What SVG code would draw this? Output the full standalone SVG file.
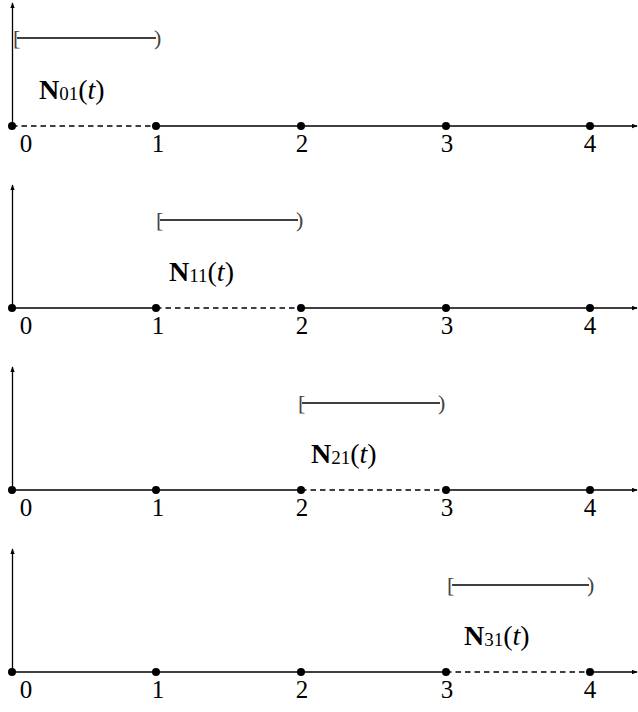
<svg xmlns="http://www.w3.org/2000/svg" width="638" height="712" viewBox="0 0 638 712">
<defs>
<style>
.ax{stroke:#000;stroke-width:1.3;fill:none}
.sol{stroke:#000;stroke-width:1.3;fill:none}
.dash{stroke:#000;stroke-width:1.3;fill:none;stroke-dasharray:5.5 4}
.iv{stroke:#000;stroke-width:1.3;fill:none}
.br{font-family:"Liberation Serif","DejaVu Serif",serif;font-size:22px;fill:#444}
.tk{font-family:"Liberation Serif","DejaVu Serif",serif;font-size:25px;fill:#000;text-anchor:middle}
.lb{font-family:"Liberation Serif","DejaVu Serif",serif;font-size:28px;fill:#000}
.sub{font-size:19px;font-weight:normal;font-style:normal}
.dot{fill:#000}
</style>
<marker id="ar" viewBox="0 0 8 6" refX="7" refY="3" markerWidth="6" markerHeight="5" markerUnits="userSpaceOnUse" orient="auto">
<path d="M0,0 L8,3 L0,6 Z" fill="#000"/>
</marker>
</defs>

<g id="connectors">
<line class="ax" x1="12.5" y1="126" x2="12.5" y2="3" marker-end="url(#ar)"/>
<line class="dash" x1="12" y1="126" x2="156" y2="126"/>
<line class="ax" x1="156" y1="126" x2="637" y2="126" marker-end="url(#ar)"/>
<line class="ax" x1="12.5" y1="308" x2="12.5" y2="185" marker-end="url(#ar)"/>
<line class="sol" x1="12" y1="308" x2="156" y2="308"/>
<line class="dash" x1="156" y1="308" x2="301" y2="308"/>
<line class="ax" x1="301" y1="308" x2="637" y2="308" marker-end="url(#ar)"/>
<line class="ax" x1="12.5" y1="490" x2="12.5" y2="367" marker-end="url(#ar)"/>
<line class="sol" x1="12" y1="490" x2="301" y2="490"/>
<line class="dash" x1="301" y1="490" x2="446" y2="490"/>
<line class="ax" x1="446" y1="490" x2="637" y2="490" marker-end="url(#ar)"/>
<line class="ax" x1="12.5" y1="672" x2="12.5" y2="549" marker-end="url(#ar)"/>
<line class="sol" x1="12" y1="672" x2="446" y2="672"/>
<line class="dash" x1="446" y1="672" x2="590" y2="672"/>
<line class="ax" x1="590" y1="672" x2="637" y2="672" marker-end="url(#ar)"/>
</g>

<g id="panel1">
<circle class="dot" cx="12" cy="126" r="4"/><circle class="dot" cx="156" cy="126" r="4"/><circle class="dot" cx="301" cy="126" r="4"/><circle class="dot" cx="446" cy="126" r="4"/><circle class="dot" cx="590" cy="126" r="4"/>
<text class="tk" x="26" y="152">0</text><text class="tk" x="158" y="152">1</text><text class="tk" x="302" y="152">2</text><text class="tk" x="447" y="152">3</text><text class="tk" x="590" y="152">4</text>
<line class="iv" x1="17" y1="38" x2="156" y2="38"/>
<text class="br" x="13" y="45">[</text><text class="br" x="154" y="45">)</text>
<text class="lb" x="39" y="99"><tspan font-weight="bold">N</tspan><tspan class="sub" dy="1">01</tspan><tspan dy="-1">(</tspan><tspan font-style="italic">t</tspan>)</text>
</g>

<g id="panel2">
<circle class="dot" cx="12" cy="308" r="4"/><circle class="dot" cx="156" cy="308" r="4"/><circle class="dot" cx="301" cy="308" r="4"/><circle class="dot" cx="446" cy="308" r="4"/><circle class="dot" cx="590" cy="308" r="4"/>
<text class="tk" x="26" y="334">0</text><text class="tk" x="158" y="334">1</text><text class="tk" x="302" y="334">2</text><text class="tk" x="447" y="334">3</text><text class="tk" x="590" y="334">4</text>
<line class="iv" x1="160" y1="220" x2="298" y2="220"/>
<text class="br" x="156" y="227">[</text><text class="br" x="296" y="227">)</text>
<text class="lb" x="169" y="281"><tspan font-weight="bold">N</tspan><tspan class="sub" dy="1">11</tspan><tspan dy="-1">(</tspan><tspan font-style="italic">t</tspan>)</text>
</g>

<g id="panel3">
<circle class="dot" cx="12" cy="490" r="4"/><circle class="dot" cx="156" cy="490" r="4"/><circle class="dot" cx="301" cy="490" r="4"/><circle class="dot" cx="446" cy="490" r="4"/><circle class="dot" cx="590" cy="490" r="4"/>
<text class="tk" x="26" y="516">0</text><text class="tk" x="158" y="516">1</text><text class="tk" x="302" y="516">2</text><text class="tk" x="447" y="516">3</text><text class="tk" x="590" y="516">4</text>
<line class="iv" x1="302" y1="403" x2="440" y2="403"/>
<text class="br" x="298" y="410">[</text><text class="br" x="438" y="410">)</text>
<text class="lb" x="311" y="463"><tspan font-weight="bold">N</tspan><tspan class="sub" dy="1">21</tspan><tspan dy="-1">(</tspan><tspan font-style="italic">t</tspan>)</text>
</g>

<g id="panel4">
<circle class="dot" cx="12" cy="672" r="4"/><circle class="dot" cx="156" cy="672" r="4"/><circle class="dot" cx="301" cy="672" r="4"/><circle class="dot" cx="446" cy="672" r="4"/><circle class="dot" cx="590" cy="672" r="4"/>
<text class="tk" x="26" y="698">0</text><text class="tk" x="158" y="698">1</text><text class="tk" x="302" y="698">2</text><text class="tk" x="447" y="698">3</text><text class="tk" x="590" y="698">4</text>
<line class="iv" x1="452" y1="585" x2="589" y2="585"/>
<text class="br" x="447" y="592">[</text><text class="br" x="587" y="592">)</text>
<text class="lb" x="464" y="645"><tspan font-weight="bold">N</tspan><tspan class="sub" dy="1">31</tspan><tspan dy="-1">(</tspan><tspan font-style="italic">t</tspan>)</text>
</g>
</svg>
